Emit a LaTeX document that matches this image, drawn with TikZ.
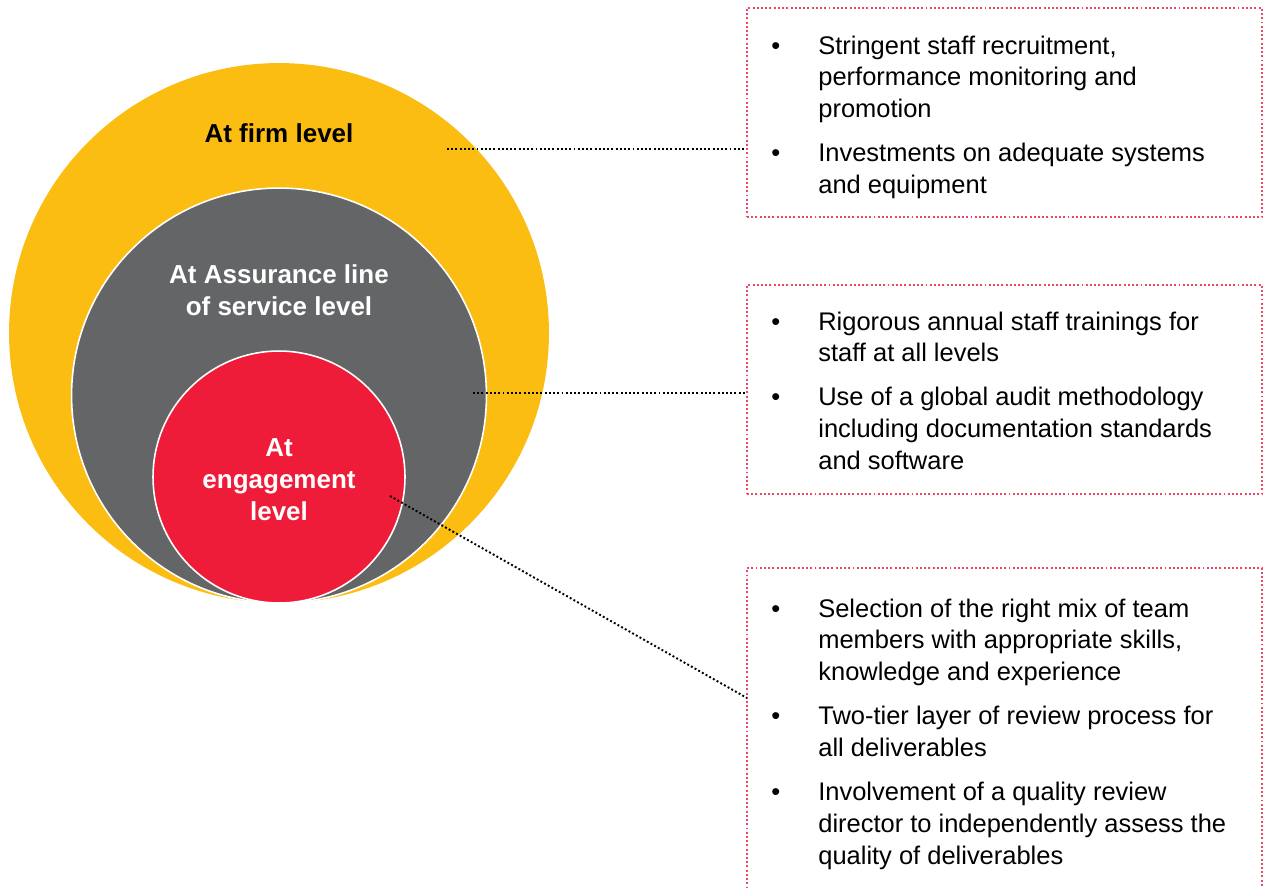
\documentclass[tikz,border=0pt]{standalone}
\usepackage{fontspec}
\setmainfont{Liberation Sans}
\usepackage{tikz}
\usetikzlibrary{positioning}

\definecolor{firmyellow}{HTML}{FCBD12}
\definecolor{losgrey}{HTML}{646567}
\definecolor{engred}{HTML}{EE1C39}
\definecolor{notepink}{HTML}{EA4865}

\begin{document}
\begin{tikzpicture}
    [
    x=0.02cm, y=-0.02cm,
    ring/.style={circle,inner sep=0pt,draw=white,line width=0.9pt},
    ringlabel/.style={font=\fontsize{14.8}{18.2}\selectfont\bfseries,align=center,inner sep=0pt},
    notebox/.style={draw=notepink,line width=1.2pt,dash pattern=on 1.1pt off 1.3pt,minimum width=10.3cm,inner sep=0pt},
    notetext/.style={font=\fontsize{14.5}{18.2}\selectfont,anchor=base west,inner sep=0pt},
    leader/.style={line width=1.1pt,dash pattern=on 1.1pt off 1.3pt},
    ]
    \useasboundingbox (0,0) rectangle (1270,887);

    % the three levels
    \node (firm) at (279,333) [ring, draw=none, fill=firmyellow, minimum size=10.8cm] {};
    \node (los) at (279,395.5) [ring, fill=losgrey, minimum size=8.3cm] {};
    \node (eng) at (279,477) [ring, fill=engred, minimum size=5.04cm] {};
    \node (firmlabel) at (279,133) [ringlabel] {At firm level};
    \node (loslabel) at (279,290) [ringlabel, text=white] {At Assurance line\\of service level};
    \node (englabel) at (279,480) [ringlabel, text=white] {At\\engagement\\level};

    % the notes
    \node (firmbox) at (1004.5,112.5) [notebox, minimum height=4.18cm] {};
    \node (losbox) at (1004.5,389.5) [notebox, minimum height=4.18cm] {};
    \node (engbox) at (1004.5,733) [notebox, minimum height=6.6cm] {};

    \node (firmnotes) at (771,54) [notetext] {\begin{tabular}[t]{@{}p{0.94cm}@{}l@{}}
      \textbullet & Stringent staff recruitment,\\
                  & performance monitoring and\\
                  & promotion\\[0.24cm]
      \textbullet & Investments on adequate systems\\
                  & and equipment
    \end{tabular}};
    \node (losnotes) at (771,330) [notetext] {\begin{tabular}[t]{@{}p{0.94cm}@{}l@{}}
      \textbullet & Rigorous annual staff trainings for\\
                  & staff at all levels\\[0.24cm]
      \textbullet & Use of a global audit methodology\\
                  & including documentation standards\\
                  & and software
    \end{tabular}};
    \node (engnotes) at (771,617) [notetext] {\begin{tabular}[t]{@{}p{0.94cm}@{}l@{}}
      \textbullet & Selection of the right mix of team\\
                  & members with appropriate skills,\\
                  & knowledge and experience\\[0.24cm]
      \textbullet & Two-tier layer of review process for\\
                  & all deliverables\\[0.24cm]
      \textbullet & Involvement of a quality review\\
                  & director to independently assess the\\
                  & quality of deliverables
    \end{tabular}};

    % leaders
    \coordinate (firmpt) at (447,149);
    \coordinate (lospt) at (473,393);
    \coordinate (engpt) at (390,496);
    \coordinate (engend) at (747,698);
    \draw [leader] (firmpt) to (firmpt -| firmbox.west);
    \draw [leader] (lospt) to (lospt -| losbox.west);
    \draw [leader] (engpt) to (engend);
\end{tikzpicture}
\end{document}
